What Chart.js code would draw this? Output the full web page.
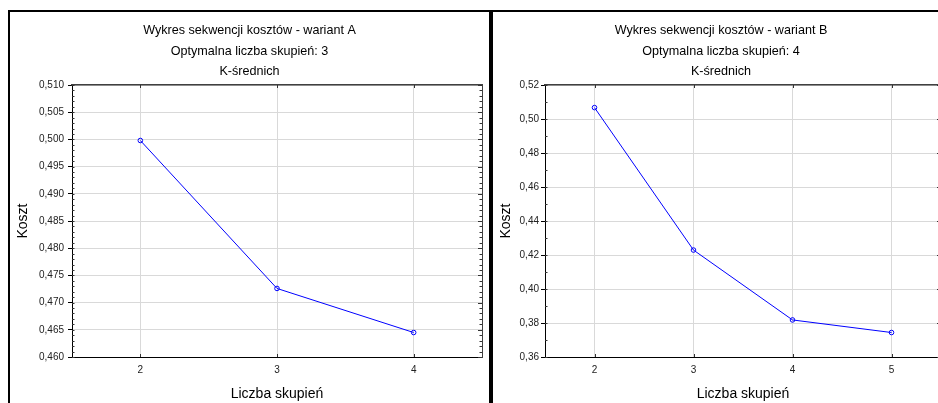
<!DOCTYPE html>
<html><head><meta charset="utf-8">
<script src="https://cdn.jsdelivr.net/npm/chart.js@4.4.1/dist/chart.umd.min.js"></script>
<style>
html,body{margin:0;padding:0;background:#fff;width:938px;height:403px;overflow:hidden;position:relative;}
#bl{position:absolute;left:8px;top:10px;width:2px;height:393px;background:#000}
#bt{position:absolute;left:8px;top:10px;width:930px;height:2px;background:#000}
#bd{position:absolute;left:489px;top:10px;width:4px;height:393px;background:#000}
#wa{position:absolute;left:10px;top:12px;width:479px;height:391px}
#wb{position:absolute;left:493px;top:12px;width:456px;height:391px}
</style></head><body>
<div id="bl"></div><div id="bt"></div><div id="bd"></div>
<div id="wa"><canvas id="ca" width="479" height="391"></canvas></div>
<div id="wb"><canvas id="cb" width="456" height="391"></canvas></div>
<script>
const categoriesA = ['2', '3', '4'];
const costA = [0.4998, 0.4726, 0.4645];
const yTicksA = [0.460, 0.465, 0.470, 0.475, 0.480, 0.485, 0.490, 0.495, 0.500, 0.505, 0.510];
const titleA = ['Wykres sekwencji kosztów - wariant A', 'Optymalna liczba skupień: 3', 'K-średnich'];

const categoriesB = ['2', '3', '4', '5'];
const costB = [0.5067, 0.4229, 0.3818, 0.3744];
const yTicksB = [0.36, 0.38, 0.40, 0.42, 0.44, 0.46, 0.48, 0.50, 0.52];
const titleB = ['Wykres sekwencji kosztów - wariant B', 'Optymalna liczba skupień: 4', 'K-średnich'];

const xTitle = 'Liczba skupień';
const yTitle = 'Koszt';

const FONT = '"Liberation Sans", Arial, sans-serif';
Chart.defaults.font.family = FONT;
Chart.defaults.color = '#000';

const frameTicks = {
  id: 'frameTicks',
  afterDraw(chart, args, o) {
    const ctx = chart.ctx, a = chart.chartArea, y = chart.scales.y, x = chart.scales.x;
    ctx.save();
    ctx.strokeStyle = '#333';
    ctx.lineWidth = 1;
    ctx.beginPath();
    // minor y ticks, inward, both sides
    const n = Math.round((o.max - o.min) / o.minor);
    for (let i = 0; i <= n; i++) {
      const v = o.min + i * o.minor;
      const py = Math.round(y.getPixelForValue(v)) + 0.5;
      ctx.moveTo(a.left, py); ctx.lineTo(a.left + 2.5, py);
      ctx.moveTo(a.right, py); ctx.lineTo(a.right - 2.5, py);
    }
    // major y ticks on right, inward
    y.ticks.forEach(t => {
      const py = Math.round(y.getPixelForValue(t.value)) + 0.5;
      ctx.moveTo(a.right, py); ctx.lineTo(a.right - 4, py);
    });
    // x ticks, inward top and bottom
    x.ticks.forEach((t, i) => {
      const px = Math.round(x.getPixelForTick(i)) + 0.5;
      ctx.moveTo(px, a.bottom); ctx.lineTo(px, a.bottom - 3);
      ctx.moveTo(px, a.top); ctx.lineTo(px, a.top + 3);
    });
    ctx.stroke();
    ctx.restore();
  }
};

function makeChart(id, cats, vals, yTicks, dec, minor, titles, rightW, tickPad) {
  const min = yTicks[0], max = yTicks[yTicks.length - 1];
  return new Chart(document.getElementById(id), {
    type: 'line',
    data: {
      labels: cats,
      datasets: [{
        data: vals,
        borderColor: '#0000ff',
        borderWidth: 1,
        pointRadius: 2.3,
        pointBorderWidth: 1,
        pointBorderColor: '#0000ff',
        pointBackgroundColor: 'rgba(255,255,255,0)',
        tension: 0,
        fill: false
      }]
    },
    plugins: [frameTicks],
    options: {
      responsive: false,
      animation: false,
      devicePixelRatio: 1,
      layout: { padding: 0 },
      plugins: {
        legend: { display: false },
        tooltip: { enabled: false },
        title: {
          display: true,
          text: titles,
          color: '#000',
          font: { family: FONT, size: 12.6, weight: 'normal', lineHeight: 1.627 },
          padding: { top: 8.75, bottom: 2.75 }
        },
        frameTicks: { min, max, minor }
      },
      scales: {
        x: {
          type: 'category',
          offset: true,
          grid: { offset: false, color: '#d9d9d9', lineWidth: 1, drawTicks: false },
          border: { display: true, color: '#000', width: 1 },
          ticks: { padding: 7, color: '#222', font: { family: FONT, size: 10 } },
          title: { display: true, text: xTitle, color: '#000', font: { family: FONT, size: 14 }, padding: { top: 0, bottom: 0.6 } },
          afterFit(s) { s.height = 46; }
        },
        x2: {
          type: 'category',
          labels: cats,
          offset: true,
          position: 'top',
          grid: { display: false },
          border: { display: true, color: '#404040', width: 1.5 },
          ticks: { display: false },
          afterFit(s) { s.height = 0; }
        },
        y: {
          type: 'linear',
          min, max,
          afterBuildTicks(s) { s.ticks = yTicks.map(v => ({ value: v })); },
          grid: { color: '#d9d9d9', lineWidth: 1, drawTicks: true, tickLength: 4, tickColor: '#000' },
          border: { display: true, color: '#000', width: 1 },
          ticks: { padding: tickPad, color: '#222', font: { family: FONT, size: 10 },
                   callback: v => v.toFixed(dec).replace('.', ',') },
          title: { display: true, text: yTitle, color: '#000', font: { family: FONT, size: 14 }, padding: { top: 4.6, bottom: 0 } },
          afterFit(s) { s.width = id === 'ca' ? 62 : 52; }
        },
        y2: {
          type: 'linear',
          position: 'right',
          min, max,
          grid: { display: false },
          border: { display: true, color: '#404040', width: 1 },
          ticks: { display: false },
          afterFit(s) { s.width = rightW; }
        }
      }
    }
  });
}

makeChart('ca', categoriesA, costA, yTicksA, 3, 0.001, titleA, 7, 4);
makeChart('cb', categoriesB, costB, yTicksB, 2, 0.01, titleB, 8, 2);
</script>
</body></html>
